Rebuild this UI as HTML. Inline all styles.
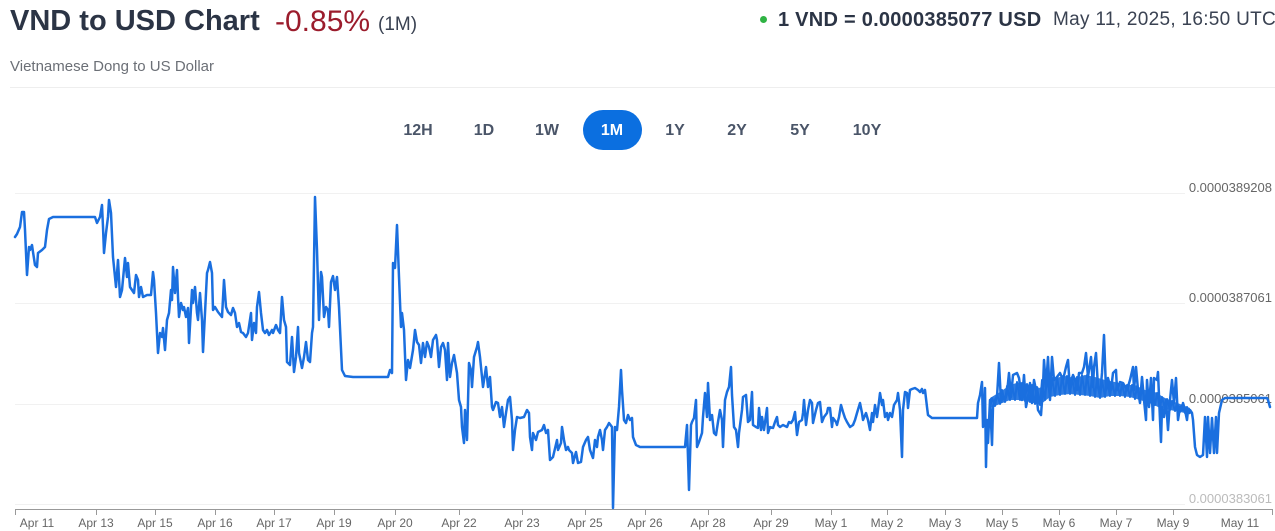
<!DOCTYPE html>
<html><head><meta charset="utf-8"><style>
html,body{margin:0;padding:0;background:#fff;}
body{width:1275px;height:531px;position:relative;overflow:hidden;font-family:"Liberation Sans",Arial,sans-serif;}
.a{position:absolute;white-space:nowrap;}
.t{left:10px;top:5px;font-size:29px;font-weight:bold;color:#2b3445;}
.p{left:275px;top:5px;font-size:30px;color:#9b1c2c;}
.m{left:378px;top:14px;font-size:19px;color:#3a4252;}
.s{left:10px;top:58px;font-size:15px;color:#6b6f76;}
.r1{left:778px;top:9px;font-size:20px;font-weight:bold;color:#2b3445;letter-spacing:0.25px;}
.r2{left:1053px;top:9px;font-size:19px;color:#3a4252;letter-spacing:0.3px;}
.dot{left:760px;top:16px;width:7px;height:7px;border-radius:50%;background:#2fb344;}
.sep{left:10px;top:87px;width:1265px;height:1px;background:#eeeeee;}
.b{top:122px;font-size:16px;font-weight:bold;color:#4a5568;text-align:center;width:60px;}
.pill{left:583px;top:110px;width:59px;height:40px;border-radius:20px;background:#0b6fe0;}
</style></head><body>
<div class="a t">VND to USD Chart</div>
<div class="a p">-0.85%</div>
<div class="a m">(1M)</div>
<div class="a s">Vietnamese Dong to US Dollar</div>
<div class="a dot"></div>
<div class="a r1">1 VND = 0.0000385077 USD</div>
<div class="a r2">May 11, 2025, 16:50 UTC</div>
<div class="a sep"></div>
<div class="a pill"></div>
<div class="a b" style="left:388px">12H</div>
<div class="a b" style="left:454px">1D</div>
<div class="a b" style="left:517px">1W</div>
<div class="a b" style="left:582px;color:#fff">1M</div>
<div class="a b" style="left:645px">1Y</div>
<div class="a b" style="left:707px">2Y</div>
<div class="a b" style="left:770px">5Y</div>
<div class="a b" style="left:837px">10Y</div>

<svg class="a" style="left:0;top:0" width="1275" height="531" viewBox="0 0 1275 531">
<g stroke="#f1f1f1" stroke-width="1">
<line x1="15" y1="193.5" x2="1185" y2="193.5"/>
<line x1="15" y1="303.5" x2="1185" y2="303.5"/>
<line x1="15" y1="404.5" x2="1185" y2="404.5"/>
<line x1="15" y1="504.5" x2="1185" y2="504.5"/>
</g>
<g font-family="Liberation Sans, Arial, sans-serif" font-size="13" fill="#666" text-anchor="end">
<text x="1272" y="192">0.0000389208</text>
<text x="1272" y="302">0.0000387061</text>
<text x="1272" y="403">0.0000385061</text>
<text x="1272" y="503" fill="#bbb">0.0000383061</text>
</g>
<line x1="15" y1="509.5" x2="1273" y2="509.5" stroke="#999" stroke-width="1"/>
<g stroke="#999" stroke-width="1">
<line x1="15.5" y1="509" x2="15.5" y2="515"/>
<line x1="96.5" y1="509" x2="96.5" y2="515"/>
<line x1="155.5" y1="509" x2="155.5" y2="515"/>
<line x1="215.5" y1="509" x2="215.5" y2="515"/>
<line x1="274.5" y1="509" x2="274.5" y2="515"/>
<line x1="334.5" y1="509" x2="334.5" y2="515"/>
<line x1="395.5" y1="509" x2="395.5" y2="515"/>
<line x1="459.5" y1="509" x2="459.5" y2="515"/>
<line x1="522.5" y1="509" x2="522.5" y2="515"/>
<line x1="585.5" y1="509" x2="585.5" y2="515"/>
<line x1="645.5" y1="509" x2="645.5" y2="515"/>
<line x1="708.5" y1="509" x2="708.5" y2="515"/>
<line x1="771.5" y1="509" x2="771.5" y2="515"/>
<line x1="831.5" y1="509" x2="831.5" y2="515"/>
<line x1="887.5" y1="509" x2="887.5" y2="515"/>
<line x1="945.5" y1="509" x2="945.5" y2="515"/>
<line x1="1002.5" y1="509" x2="1002.5" y2="515"/>
<line x1="1059.5" y1="509" x2="1059.5" y2="515"/>
<line x1="1116.5" y1="509" x2="1116.5" y2="515"/>
<line x1="1173.5" y1="509" x2="1173.5" y2="515"/>
<line x1="1272.5" y1="509" x2="1272.5" y2="515"/>
</g>
<g font-family="Liberation Sans, Arial, sans-serif" font-size="12" fill="#666" text-anchor="middle">
<text x="37" y="527">Apr 11</text>
<text x="96" y="527">Apr 13</text>
<text x="155" y="527">Apr 15</text>
<text x="215" y="527">Apr 16</text>
<text x="274" y="527">Apr 17</text>
<text x="334" y="527">Apr 19</text>
<text x="395" y="527">Apr 20</text>
<text x="459" y="527">Apr 22</text>
<text x="522" y="527">Apr 23</text>
<text x="585" y="527">Apr 25</text>
<text x="645" y="527">Apr 26</text>
<text x="708" y="527">Apr 28</text>
<text x="771" y="527">Apr 29</text>
<text x="831" y="527">May 1</text>
<text x="887" y="527">May 2</text>
<text x="945" y="527">May 3</text>
<text x="1002" y="527">May 5</text>
<text x="1059" y="527">May 6</text>
<text x="1116" y="527">May 7</text>
<text x="1173" y="527">May 9</text>
<text x="1240" y="527">May 11</text>
</g>
<polygon fill="#1a6fdf" fill-opacity="0.9" points="990,398 1000,392 1010,385 1020,382 1030,385 1040,388 1045,378 1055,378 1065,376 1075,378 1085,375 1095,377 1105,380 1115,382 1125,385 1135,385 1145,390 1155,392 1165,398 1175,402 1185,406 1190,408 1190,414 1180,412 1170,410 1160,408 1150,403 1140,400 1130,397 1120,396 1110,396 1100,398 1090,396 1080,395 1070,394 1060,395 1050,397 1040,405 1030,402 1020,400 1010,400 1000,404 990,408"/>
<polyline fill="none" stroke="#1a6fdf" stroke-width="2" stroke-linejoin="round" points="990,408 992,398 995,406 997,394 1000,404 1002,390 1005,402 1007,386 1010,400 1012,384 1015,400 1017,382 1020,400 1022,383 1025,401 1027,384 1030,402 1032,385 1035,404 1037,387 1040,405 1042,380 1045,400 1047,377 1050,397 1052,378 1055,396 1057,377 1060,395 1062,376 1065,394 1067,376 1070,394 1072,377 1075,395 1077,377 1080,395 1082,375 1085,395 1087,375 1090,396 1092,376 1095,397 1097,378 1100,398 1102,380 1105,397 1107,381 1110,396 1112,382 1115,396 1117,383 1120,396 1122,384 1125,397 1127,385 1130,397 1132,385 1135,399 1137,386 1140,400 1142,388 1145,402 1147,390 1150,403 1152,391 1155,405 1157,393 1160,408 1162,397 1165,409 1167,399 1170,410 1172,401 1175,411 1177,403 1180,412 1182,405 1185,413 1187,407 1190,414"/>
<polyline fill="none" stroke="#1a6fdf" stroke-width="2.5" stroke-linejoin="round" stroke-linecap="round" points="
15,237 17,234 20,227 22,212 24,212 25,230 27,275 29,247 30,250 32,245 33,252 35,265 37,267 38,253 42,250 45,247 47,230 49,219 53,217 95,217 97,223 100,217 102,205 103,227 104,253 106,233 108,217 109,200 111,213 113,257 116,287 118,260 120,297 122,290 125,258 127,277 128,263 130,287 132,290 134,293 136,275 138,280 139,297 141,287 143,297 147,295 151,295 153,272 154,280 156,313 158,353 160,333 162,337 163,328 165,350 167,320 169,313 171,290 172,300 173,267 175,293 177,270 178,297 179,317 181,303 183,310 184,307 186,317 188,308 189,343 192,290 193,303 195,287 197,313 198,320 200,293 202,320 203,352 205,313 207,273 208,270 210,262 212,273 213,310 215,307 218,312 222,317 224,280 226,307 228,312 231,315 233,308 235,313 237,327 239,323 241,332 243,333 246,337 248,333 251,313 252,340 254,323 256,333 257,307 259,292 261,313 263,330 265,333 267,330 269,335 272,330 273,333 276,325 278,330 280,333 282,297 284,320 286,327 287,362 290,365 292,337 294,372 296,357 298,327 299,353 302,368 304,357 306,342 308,360 310,362 312,333 313,327 315,197 317,250 319,320 321,272
322,277 324,317 326,307 328,310 329,327 331,282 333,276 335,290 337,277 339,307 342,370 345,376 353,377 388,377 390,370 392,373 393,263 395,268 397,225 399,277 401,327 402,313 404,330 406,380 408,360 410,368 413,350 415,330 417,342 419,345 421,363 423,343 425,357 427,342 429,347 431,357 433,340 436,335 437,340 439,367 441,347 443,343 445,350 447,380 448,343 450,377 452,363 454,355 457,373 459,400 461,407 462,427 464,443 465,410 467,440 469,363 471,370 472,387 474,357 477,347 478,342 480,357 482,377 483,387 486,367 488,387 490,377 492,407 493,410 496,402 498,403 500,417 502,407 504,427 506,413 508,400 510,397 512,420 513,450 515,430 517,417 520,418 524,417 527,410 529,413 530,437 532,450 533,433 536,440 538,432 542,430 544,425 546,433 548,430 550,460 553,457 557,440 558,450 561,443 562,427 564,440 566,450 568,447 569,450 572,453 573,463 576,452 578,463 581,462 583,447 586,440 588,437 590,450 593,458 595,440 597,447 598,437 600,430 602,440 603,450 605,430 607,427 609,423 612,427 613,508 615,427 617,430 619,407 621,370 622,390 624,420 626,423 628,415 630,420 632,418 633,437 636,445 640,447 685,447
687,425 689,490 691,425 692,422 694,418 696,400 697,447 699,442 702,433 703,417 705,393 707,417 708,383 710,420 712,415 714,433 716,435 718,422 720,410 722,420 723,447 725,400 727,392 729,387 731,367 732,395 734,427 736,430 738,447 739,433 742,410 743,397 746,395 748,422 750,420 752,392 753,425 756,427 758,428 759,408 761,430 762,417 764,430 767,408 768,433 770,427 773,428 775,422 777,417 778,425 780,427 783,425 787,427 789,422 791,423 793,420 795,412 797,435 799,422 802,420 803,413 804,400 806,425 808,410 810,400 812,403 813,423 816,410 818,403 820,402 822,422 824,417 827,413 828,408 830,408 832,427 833,418 836,422 837,425 839,417 841,405 843,412 845,418 847,422 850,427 853,425 855,420 857,413 860,403 862,413 863,420 866,413 868,420 870,430 872,413 873,422 875,405 877,417 878,410 880,393 882,405 883,400 885,417 887,413 888,420 890,413 892,417 894,405 897,400 898,393 900,410 902,457 903,410 905,392 907,393 908,408 910,390 912,389 915,388 918,390 920,392 922,389 923,393 925,390 927,407 928,415 932,418 977,418
978,403 980,395 982,382 983,427 984,420 985,388 986,467 987,420 988,443 990,400 992,445 993,407 995,400 997,397 999,363 1001,402 1003,397 1005,400 1007,393 1009,373 1011,397 1013,375 1017,373 1019,378 1022,400 1024,375 1026,407 1028,397 1030,383 1032,403 1034,380 1036,390 1038,410 1041,415 1043,387 1044,360 1046,387 1048,357 1050,400 1052,357 1054,380 1057,377 1060,373 1063,380 1066,367 1068,360 1070,390 1073,375 1075,380 1077,390 1079,373 1082,373 1084,367 1086,353 1088,377 1091,357 1093,387 1094,367 1096,353 1098,387 1100,395 1102,373 1104,335 1106,390 1108,378 1111,390 1113,373 1116,370 1117,390 1120,382 1123,383 1127,390 1130,380 1133,367 1134,390 1136,367 1138,390 1140,403 1142,377 1144,400 1146,420 1147,380 1149,407 1151,378 1153,420 1154,378 1157,380 1158,372 1160,420 1161,442 1162,407 1164,417 1166,400 1168,430 1170,400 1172,380 1174,403 1176,378 1178,420 1180,407 1182,410 1183,403 1185,410 1187,420 1188,410 1190,410 1192,413 1193,420 1195,447 1197,455 1200,457 1203,455 1205,417 1207,457 1208,417 1210,453 1212,418 1214,453 1216,417 1217,453 1219,413 1222,400 1225,398 1243,398 1267,398 1268,400 1270,407"/>
</svg>
</body></html>
